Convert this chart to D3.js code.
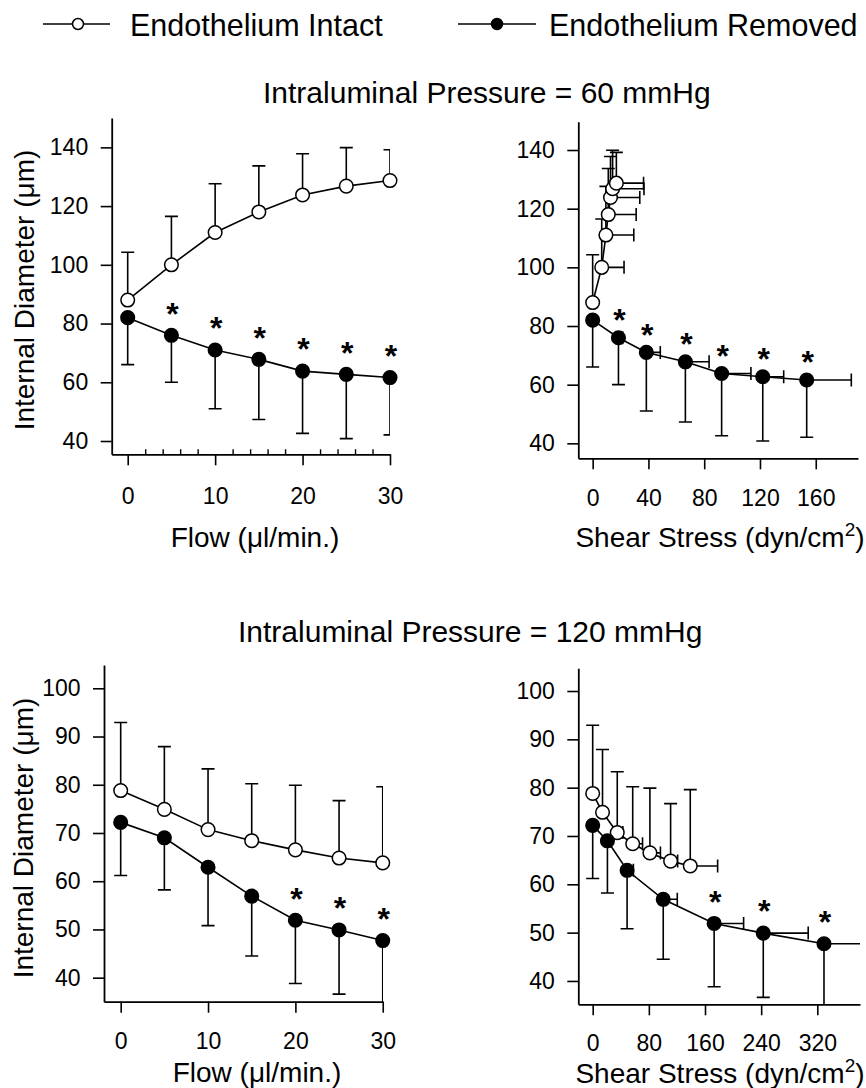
<!DOCTYPE html>
<html><head><meta charset="utf-8">
<script src="https://cdn.jsdelivr.net/npm/d3@7"></script>
<style>
body{margin:0;background:#fff;}
svg{display:block;}
text{font-family:"Liberation Sans",Arial,Helvetica,sans-serif;fill:#000;}
</style></head><body>
<svg id="chart" width="866" height="1088"></svg>
<script>
// ---------- DATA ----------
const legendLabels = ["Endothelium Intact", "Endothelium Removed"];
const panelTitles = ["Intraluminal Pressure = 60 mmHg", "Intraluminal Pressure = 120 mmHg"];
const yAxisTitle = "Internal Diameter (\u03bcm)";
const flowTitle = "Flow (\u03bcl/min.)";
const shearTitleParts = ["Shear Stress (dyn/cm", "2", ")"];

const flowTicks = [0, 10, 20, 30];
const flowMinorTicks = [2, 4, 6, 8, 12, 14, 16, 18, 22, 24, 26, 28];
const shear60Ticks = [0, 40, 80, 120, 160];
const shear120Ticks = [0, 80, 160, 240, 320];
const diam60Ticks = [40, 60, 80, 100, 120, 140];
const diam120Ticks = [40, 50, 60, 70, 80, 90, 100];

const flow = [0, 5, 10, 15, 20, 25, 30];

// Intraluminal pressure 60 mmHg
const p60IntactDiam = [88, 100, 111, 118, 123.8, 126.8, 128.7];
const p60IntactSD = [16.3, 16.5, 16.6, 15.7, 14, 13.1, 10.5];
const p60RemovedDiam = [82, 76, 71, 67.8, 63.8, 62.7, 61.6];
const p60RemovedSD = [16, 16, 20, 20.5, 21.2, 21.9, 19.5];
const p60IntactShear = [0, 6.5, 9.5, 11.2, 12.8, 14.3, 17];
const p60IntactShearSD = [0, 16, 20, 20, 21, 22.5, 19.5];
const p60RemovedShear = [0, 18.5, 38.5, 66.5, 92.5, 122, 153.5];
const p60RemovedShearSD = [0, 3, 10, 17, 21, 15, 32];
const p60Signif = [false, true, true, true, true, true, true];

// Intraluminal pressure 120 mmHg
const p120IntactDiam = [78.8, 74.9, 70.7, 68.4, 66.5, 64.8, 63.8];
const p120IntactSD = [14.1, 13, 12.6, 11.8, 13.4, 11.9, 15.8];
const p120RemovedDiam = [72.2, 69, 62.9, 56.9, 51.9, 49.9, 47.7];
const p120RemovedSD = [11, 10.8, 12.1, 12.4, 13.1, 13.3, 14];
const p120IntactShear = [0, 14, 35, 57, 81.5, 111, 139];
const p120IntactShearSD = [0, 4, 8, 14, 15, 10, 39];
const p120RemovedShear = [0, 21, 49, 100.5, 173, 243, 329.5];
const p120RemovedShearSD = [0, 5, 9, 20, 42, 64, 90];
const p120Signif = [false, false, false, false, true, true, true];

// ---------- LAYOUT ----------
const svg = d3.select("#chart");
const FONT_TICK = 23, FONT_TITLE = 28;

const panels = [
  {id: "a", box: {x0: 111.7, x1: 390, y0: 118, y1: 454.3}, xDomain: [-1.83, 30], yDomain: [35.47, 150],
   xTicks: flowTicks, yTicks: diam60Ticks, xPad: 22.5, minor: flowMinorTicks, starOff: 29,
   xs: [flow, flow], xsd: [null, null], ys: [p60IntactDiam, p60RemovedDiam], ysd: [p60IntactSD, p60RemovedSD],
   sig: p60Signif, xTitle: "flow", xTitleX: 255, xTitleY: 547, yTitle: {x: 34, y: 290}},
  {id: "b", box: {x0: 578.3, x1: 858, y0: 121.7, y1: 458.3}, xDomain: [-10.3, 190.3], yDomain: [34.9, 149.65],
   xTicks: shear60Ticks, yTicks: diam60Ticks, xPad: 20.5, minor: null, starOff: 25,
   xs: [p60IntactShear, p60RemovedShear], xsd: [p60IntactShearSD, p60RemovedShearSD],
   ys: [p60IntactDiam, p60RemovedDiam], ysd: [p60IntactSD, p60RemovedSD],
   sig: p60Signif, xTitle: "shear", xTitleX: 720, xTitleY: 547, yTitle: null},
  {id: "c", box: {x0: 104, x1: 383, y0: 665, y1: 1001.7}, xDomain: [-1.91, 30.03], yDomain: [35.02, 104.83],
   xTicks: flowTicks, yTicks: diam120Ticks, xPad: 19.5, minor: null, starOff: 29,
   xs: [flow, flow], xsd: [null, null], ys: [p120IntactDiam, p120RemovedDiam], ysd: [p120IntactSD, p120RemovedSD],
   sig: p120Signif, xTitle: "flow", xTitleX: 257, xTitleY: 1082, yTitle: {x: 33, y: 838}},
  {id: "d", box: {x0: 578.3, x1: 860, y0: 668.3, y1: 1004.3}, xDomain: [-20.5, 380.8], yDomain: [35.17, 104.7],
   xTicks: shear120Ticks, yTicks: diam120Ticks, xPad: 19.5, minor: null, starOff: 29,
   xs: [p120IntactShear, p120RemovedShear], xsd: [p120IntactShearSD, p120RemovedShearSD],
   ys: [p120IntactDiam, p120RemovedDiam], ysd: [p120IntactSD, p120RemovedSD],
   sig: p120Signif, xTitle: "shear", xTitleX: 720, xTitleY: 1083, yTitle: null}
];

const LW = 1.6, R = 6.8, CAP = 6.5;

function styleAxis(sel) {
  sel.select(".domain").attr("stroke", "#000").attr("stroke-width", 1.8);
  sel.selectAll(".tick line").attr("stroke", "#000").attr("stroke-width", 1.6);
  sel.selectAll(".tick text").attr("font-size", FONT_TICK)
     .attr("font-family", "'Liberation Sans',Arial,sans-serif").attr("fill", "#000");
}

panels.forEach(p => {
  const x = d3.scaleLinear().domain(p.xDomain).range([p.box.x0, p.box.x1]);
  const y = d3.scaleLinear().domain(p.yDomain).range([p.box.y1, p.box.y0]);
  const g = svg.append("g");

  // clip for error bars
  const clipId = "clip-" + p.id;
  svg.append("defs").append("clipPath").attr("id", clipId).append("rect")
    .attr("x", p.box.x0).attr("y", p.box.y0)
    .attr("width", p.box.x1 - p.box.x0).attr("height", p.box.y1 - p.box.y0);

  // axes
  const ya = d3.axisLeft(y).tickValues(p.yTicks).tickSize(11).tickPadding(12.5).tickSizeOuter(0);
  g.append("g").attr("transform", `translate(${p.box.x0},0)`).call(ya).call(styleAxis);
  const xa = d3.axisBottom(x).tickValues(p.xTicks).tickSize(11).tickPadding(p.xPad).tickSizeOuter(0);
  g.append("g").attr("transform", `translate(0,${p.box.y1})`).call(xa).call(styleAxis);
  if (p.minor) {
    const ma = d3.axisTop(x).tickValues(p.minor).tickSize(5).tickFormat("").tickSizeOuter(0);
    const mg = g.append("g").attr("transform", `translate(0,${p.box.y1})`).call(ma);
    mg.select(".domain").remove();
    mg.selectAll(".tick line").attr("stroke", "#000").attr("stroke-width", 1.4);
  }

  // series: 0 = intact (upper bars), 1 = removed (lower bars)
  const line = d3.line().x(d => x(d[0])).y(d => y(d[1]));
  const bars = g.append("g").attr("clip-path", `url(#${clipId})`);
  const marks = [];
  [0, 1].forEach(s => {
    const pts = p.xs[s].map((xv, i) => [xv, p.ys[s][i]]);
    g.insert("path", ":first-child").datum(pts).attr("d", line)
      .attr("fill", "none").attr("stroke", "#000").attr("stroke-width", LW);
    const dir = s === 0 ? 1 : -1;
    pts.forEach((pt, i) => {
      const px = x(pt[0]), py = y(pt[1]);
      const ey = y(pt[1] + dir * p.ysd[s][i]);
      bars.append("line").attr("x1", px).attr("x2", px).attr("y1", py).attr("y2", ey)
        .attr("stroke", "#000").attr("stroke-width", LW);
      bars.append("line").attr("x1", px - CAP).attr("x2", px + CAP).attr("y1", ey).attr("y2", ey)
        .attr("stroke", "#000").attr("stroke-width", LW);
      if (p.xsd[s] && p.xsd[s][i] > 0) {
        const ex = x(pt[0] + p.xsd[s][i]);
        bars.append("line").attr("x1", px).attr("x2", ex).attr("y1", py).attr("y2", py)
          .attr("stroke", "#000").attr("stroke-width", LW);
        bars.append("line").attr("x1", ex).attr("x2", ex).attr("y1", py - CAP).attr("y2", py + CAP)
          .attr("stroke", "#000").attr("stroke-width", LW);
      }
    });
    marks.push(pts);
  });
  // markers
  marks.forEach((pts, s) => {
    g.append("g").selectAll("circle").data(pts).join("circle")
      .attr("cx", d => x(d[0])).attr("cy", d => y(d[1])).attr("r", R)
      .attr("fill", s === 0 ? "#fff" : "#000").attr("stroke", "#000").attr("stroke-width", 1.5);
  });
  // significance stars
  const SFS = 32;
  p.sig.forEach((sg, i) => {
    if (!sg) return;
    g.append("text").attr("x", x(p.xs[1][i]) + 1)
      .attr("y", y(p.ys[1][i]) - p.starOff + 0.57 * SFS)
      .attr("text-anchor", "middle").attr("font-size", SFS).attr("font-weight", "bold").text("*");
  });

  // axis titles
  if (p.xTitle === "flow") {
    svg.append("text").attr("x", p.xTitleX).attr("y", p.xTitleY).attr("text-anchor", "middle")
      .attr("font-size", FONT_TITLE).text(flowTitle);
  } else {
    const t = svg.append("text").attr("x", p.xTitleX).attr("y", p.xTitleY).attr("text-anchor", "middle")
      .attr("font-size", FONT_TITLE);
    t.append("tspan").text(shearTitleParts[0]);
    t.append("tspan").attr("font-size", 19).attr("dy", -11).text(shearTitleParts[1]);
    t.append("tspan").attr("dy", 11).text(shearTitleParts[2]);
  }
  if (p.yTitle) {
    svg.append("text").attr("transform", `translate(${p.yTitle.x},${p.yTitle.y}) rotate(-90)`)
      .attr("text-anchor", "middle").attr("font-size", FONT_TITLE).text(yAxisTitle);
  }
});

// panel titles
svg.append("text").attr("x", 263).attr("y", 103).attr("font-size", 30).text(panelTitles[0]);
svg.append("text").attr("x", 238).attr("y", 642).attr("font-size", 30).text(panelTitles[1]);

// legend
const legend = [
  {label: legendLabels[0], fill: "#fff", l0: 43, l1: 110, cx: 78, tx: 130},
  {label: legendLabels[1], fill: "#000", l0: 458, l1: 536, cx: 497, tx: 549}
];
legend.forEach(d => {
  svg.append("line").attr("x1", d.l0).attr("x2", d.l1).attr("y1", 24).attr("y2", 24)
    .attr("stroke", "#000").attr("stroke-width", 1.5);
  svg.append("circle").attr("cx", d.cx).attr("cy", 24).attr("r", 5.5)
    .attr("fill", d.fill).attr("stroke", "#000").attr("stroke-width", 1.5);
  svg.append("text").attr("x", d.tx).attr("y", 36).attr("font-size", 30.5).text(d.label);
});
</script>
</body></html>
